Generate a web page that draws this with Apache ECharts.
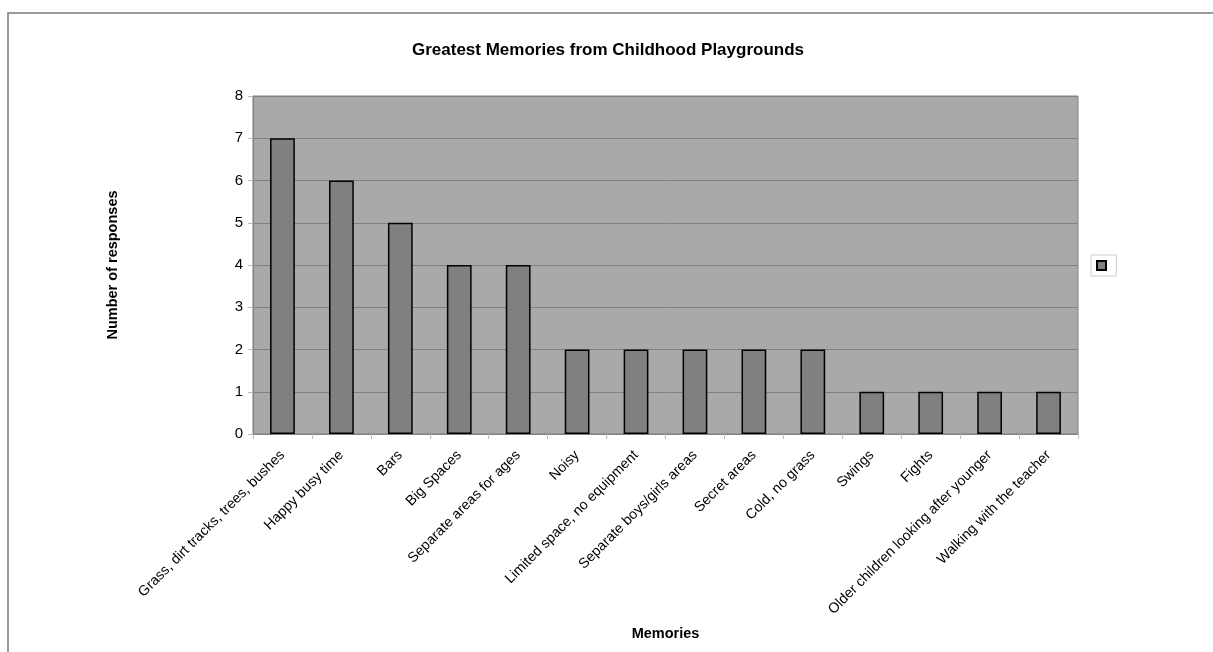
<!DOCTYPE html>
<html><head><meta charset="utf-8">
<script src="https://cdn.jsdelivr.net/npm/echarts@6/dist/echarts.min.js"></script>
<style>html,body{margin:0;padding:0;background:#fff}#c{width:1213px;height:652px}</style>
</head><body><div id="c"></div>
<script>
const categories = ["Grass, dirt tracks, trees, bushes","Happy busy time","Bars","Big Spaces","Separate areas for ages","Noisy","Limited space, no equipment","Separate boys/girls areas","Secret areas","Cold, no grass","Swings","Fights","Older children looking after younger","Walking with the teacher"];
const values = [7,6,5,4,4,2,2,2,2,2,1,1,1,1];
const yTicks = [0,8,1];

const chart = echarts.init(document.getElementById('c'));
chart.setOption({
  animation:false,
  backgroundColor:'#fff',
  textStyle:{fontFamily:'Liberation Sans, Arial, sans-serif'},
  title:{text:'Greatest Memories from Childhood Playgrounds',left:603,top:37,textAlign:'center',
    textStyle:{fontSize:17,fontWeight:'bold',color:'#000'}},
  graphic:[
    {type:'polyline',shape:{points:[[8,652],[8,13],[1213,13]]},style:{stroke:'#7a7a7a',lineWidth:1.5,fill:null},silent:true},
    {type:'text',rotation:Math.PI/2,style:{text:'Number of responses',font:'bold 14.5px Liberation Sans, Arial, sans-serif',fill:'#000',textAlign:'center',textVerticalAlign:'middle'},x:113,y:265}
  ],
  legend:{show:true,left:1091,top:255,itemWidth:9,itemHeight:9,itemGap:0,padding:[5,5,5,5],borderColor:'#ccc',borderWidth:1,
    data:[{name:' ',icon:'rect'}],textStyle:{fontSize:1,color:'#fff'},formatter:''},
  grid:{left:253,top:96,right:135,bottom:218,show:true,backgroundColor:'#a9a9a9',borderColor:'#808080',borderWidth:1},
  xAxis:{type:'category',data:categories,
    axisLine:{show:true,lineStyle:{color:'#808080'}},
    axisTick:{show:true,alignWithLabel:false,lineStyle:{color:'#bbb'}},
    axisLabel:{interval:0,rotate:45,fontSize:14.2,color:'#000',margin:19},
    name:'Memories',nameLocation:'middle',nameGap:192,nameTextStyle:{fontWeight:'bold',fontSize:14.5,color:'#000'}},
  yAxis:{type:'value',min:yTicks[0],max:yTicks[1],interval:yTicks[2],
    axisLine:{show:true,lineStyle:{color:'#808080'}},
    axisTick:{show:true,length:5,lineStyle:{color:'#bbb'}},
    axisLabel:{fontSize:15,color:'#000',margin:10},
    splitLine:{show:true,lineStyle:{color:'#808080',width:1}}},
  series:[{name:' ',type:'bar',data:values,barWidth:'42%',
    itemStyle:{color:'#808080',borderColor:'#000',borderWidth:1.5}}]
});
</script></body></html>
